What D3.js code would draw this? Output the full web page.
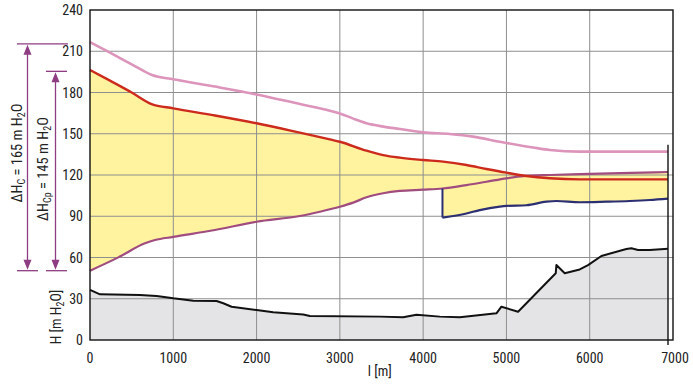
<!DOCTYPE html>
<html><head><meta charset="utf-8">
<script src="https://cdn.jsdelivr.net/npm/d3@7"></script>
<style>
html,body{margin:0;padding:0;background:#fff;}
svg{display:block;}
text{font-family:"Liberation Sans Narrow","Arial Narrow","Roboto Condensed",sans-serif;fill:#222;}
</style></head>
<body><svg id="c" width="693" height="389"></svg>
<script>
// ---- data ----
const xTicks = [0,1000,2000,3000,4000,5000,6000,7000];
const yTicks = [0,30,60,90,120,150,180,210,240];

const pinkL = [0,240,500,744,1000,1500,2000,2520,2880,3000,3160,3320,3520,3720,4000,4320,4600,4920,5320,5520,5880,6940];
const pinkH = [216.7,209,200.5,192.7,189.6,184.3,178.6,171.6,166.8,164.8,161,157.6,155.2,153.5,151,149.8,147.9,144.2,140,138.2,137,137];

const redL = [0,240,500,740,1000,1500,2000,2520,2880,3000,3320,3520,3720,4000,4240,4520,4760,5000,5240,5520,5880,6940];
const redH = [196.4,188.6,180,171.6,168.5,163.3,157.6,150.8,145.9,144.2,137.7,134.5,132.6,130.9,129.7,127.3,124.4,121.7,119.3,117.6,116.8,116.8];

const mauveL = [0,340,660,780,1000,1500,2000,2520,2760,3000,3160,3320,3520,3720,4000,4232,4520,4760,5000,5240,5520,5880,6500,6940];
const mauveH = [50.4,60.1,70.3,72.7,75,80,86,90.2,93.3,96.9,99.9,103.8,106.7,108.4,109.3,110.2,112.7,115.1,117.6,119.3,120,120.7,121.5,122.2];

const navyL = [4232,4520,4680,4920,5000,5240,5480,5600,5880,6200,6480,6720,6940];
const navyH = [89,92,94.5,97,97.5,98,100.6,101.1,100.2,100.6,101.1,101.8,102.8];

const terrL = [0,120,600,800,1000,1240,1520,1600,1700,2000,2200,2560,2640,3480,3760,3920,4200,4440,4880,4940,5140,5592,5600,5700,5880,5980,6140,6440,6500,6580,6720,6940];
const terrH = [36.4,33.2,32.7,32,30.3,28.6,28.4,26.7,24.2,21.8,20.1,18.6,17.5,17,16.5,18.4,17,16.5,19.4,24.2,20.6,48.5,54.5,48.5,51.3,54.5,61.1,66.2,66.7,65.5,65.5,66.4];

const endMarkTop = 142;
const dHc = 165, dHcp = 145;

// ---- scales ----
const svg = d3.select("#c");
const x = d3.scaleLinear().domain([0,7000]).range([90,673]);
const y = d3.scaleLinear().domain([0,240]).range([340,10]);

const pts = (L,H) => L.map((l,i)=>[l,H[i]]);
const pink = pts(pinkL,pinkH), red = pts(redL,redH), mauve = pts(mauveL,mauveH), navy = pts(navyL,navyH), terr = pts(terrL,terrH);
const splitL = navyL[0];
const mauveAt = mauveH[mauveL.indexOf(splitL)];

const curve = d3.curveMonotoneX;
const line = d3.line().x(d=>x(d[0])).y(d=>y(d[1])).curve(curve);
const areaBelow = d3.area().x(d=>x(d[0])).y0(y(0)).y1(d=>y(d[1])).curve(curve);
const areaAbove = d3.area().x(d=>x(d[0])).y0(y(240)).y1(d=>y(d[1])).curve(curve);

// terrain fill
svg.append("path").attr("d", d3.area().x(d=>x(d[0])).y0(y(0)).y1(d=>y(d[1]))(terr)).attr("fill","#e4e4e6");

// yellow fill (clip = above lower boundary)
const defs = svg.append("defs");
const cp = defs.append("clipPath").attr("id","lowclip");
cp.append("path").attr("d", areaAbove(mauve.filter(d=>d[0]<=splitL)));
cp.append("path").attr("d", areaAbove(navy));
const yg = svg.append("g").attr("clip-path","url(#lowclip)");
yg.append("path").attr("d", areaBelow(red)).attr("fill","#fff3a0");
yg.append("path").attr("d", areaBelow(mauve.filter(d=>d[0]>=splitL))).attr("fill","#fff3a0");

// grid
const g = svg.append("g");
g.selectAll(".gx").data(xTicks.slice(1,-1)).join("line")
  .attr("x1",d=>x(d)).attr("x2",d=>x(d)).attr("y1",y(0)).attr("y2",y(240))
  .attr("stroke","#8e8e8e").attr("stroke-width",1);
g.selectAll(".gy").data(yTicks.slice(1,-1)).join("line")
  .attr("y1",d=>y(d)).attr("y2",d=>y(d)).attr("x1",x(0)).attr("x2",x(7000))
  .attr("stroke","#8e8e8e").attr("stroke-width",1);

// lines
svg.append("path").attr("d",line(pink)).attr("fill","none").attr("stroke","#dc94bb").attr("stroke-width",2.6);
svg.append("path").attr("d",line(mauve)).attr("fill","none").attr("stroke","#a04c7e").attr("stroke-width",2.2);
svg.append("path").attr("d",line(red)).attr("fill","none").attr("stroke","#cc2a1c").attr("stroke-width",2.4);
svg.append("path").attr("d",d3.line().x(d=>x(d[0])).y(d=>y(d[1]))([[splitL,mauveAt],[splitL,navyH[0]]])).attr("fill","none").attr("stroke","#2c2f72").attr("stroke-width",2);
svg.append("path").attr("d",line(navy)).attr("fill","none").attr("stroke","#2c2f72").attr("stroke-width",2.2);
svg.append("path").attr("d",d3.line().x(d=>x(d[0])).y(d=>y(d[1]))(terr)).attr("fill","none").attr("stroke","#111").attr("stroke-width",2).attr("stroke-linejoin","round");

// frame
svg.append("rect").attr("x",x(0)).attr("y",y(240)).attr("width",x(7000)-x(0)).attr("height",y(0)-y(240))
  .attr("fill","none").attr("stroke","#111").attr("stroke-width",1.4);
// end marker
const endL = terrL[terrL.length-1];
svg.append("line").attr("x1",x(endL)).attr("x2",x(endL)).attr("y1",y(endMarkTop)).attr("y2",y(0)+5)
  .attr("stroke","#111").attr("stroke-width",1.4);

// tick labels
svg.selectAll(".yt").data(yTicks).join("text").attr("x",83).attr("y",d=>y(d)).attr("dy","0.36em")
  .attr("text-anchor","end").attr("font-size",14).text(d=>d);
svg.selectAll(".xt").data(xTicks).join("text").attr("x",d=>x(d)+(d===7000?2:0)).attr("y",y(0)+23)
  .attr("text-anchor","middle").attr("font-size",14).text(d=>d);

// axis titles
svg.append("text").attr("x",x(3480)).attr("y",376).attr("text-anchor","middle").attr("font-size",14).text("l [m]");
const yt = svg.append("text").attr("transform","translate(61,317) rotate(-90)").attr("text-anchor","middle").attr("font-size",14);
yt.append("tspan").text("H [m H");
yt.append("tspan").attr("font-size",10).attr("dy",3).text("2");
yt.append("tspan").attr("dy",-3).text("O]");

// annotations
const ac = "#8e3d82";
function arrow(xc, top, bot, xl1, xr1, xl2, xr2){
  const a = svg.append("g");
  a.append("line").attr("x1",xl1).attr("x2",xr1).attr("y1",y(top)).attr("y2",y(top)).attr("stroke",ac).attr("stroke-width",1.3);
  a.append("line").attr("x1",xl2).attr("x2",xr2).attr("y1",y(bot)).attr("y2",y(bot)).attr("stroke",ac).attr("stroke-width",1.3);
  a.append("line").attr("x1",xc).attr("x2",xc).attr("y1",y(top)+6).attr("y2",y(bot)-6).attr("stroke",ac).attr("stroke-width",1.3);
  a.append("path").attr("d",`M${xc},${y(top)+1}L${xc-4},${y(top)+11}L${xc+4},${y(top)+11}Z`).attr("fill",ac);
  a.append("path").attr("d",`M${xc},${y(bot)-1}L${xc-4},${y(bot)-11}L${xc+4},${y(bot)-11}Z`).attr("fill",ac);
}
const base = mauveH[0];
arrow(27.5, base+dHc, base, 17, 68, 17, 38);
arrow(55.5, base+dHcp, base, 46, 67, 46, 67);

function rotLabel(tx, ty, sub, val){
  const t = svg.append("text").attr("transform",`translate(${tx},${ty}) rotate(-90)`).attr("text-anchor","middle").attr("font-size",14.5);
  t.append("tspan").text("ΔH");
  t.append("tspan").attr("font-size",10).attr("dy",3).text(sub);
  t.append("tspan").attr("dy",-3).text(` = ${val} m H`);
  t.append("tspan").attr("font-size",10).attr("dy",3).text("2");
  t.append("tspan").attr("dy",-3).text("O");
}
rotLabel(22, 153, "C", dHc);
rotLabel(48, 169, "Cp", dHcp);
</script></body></html>
